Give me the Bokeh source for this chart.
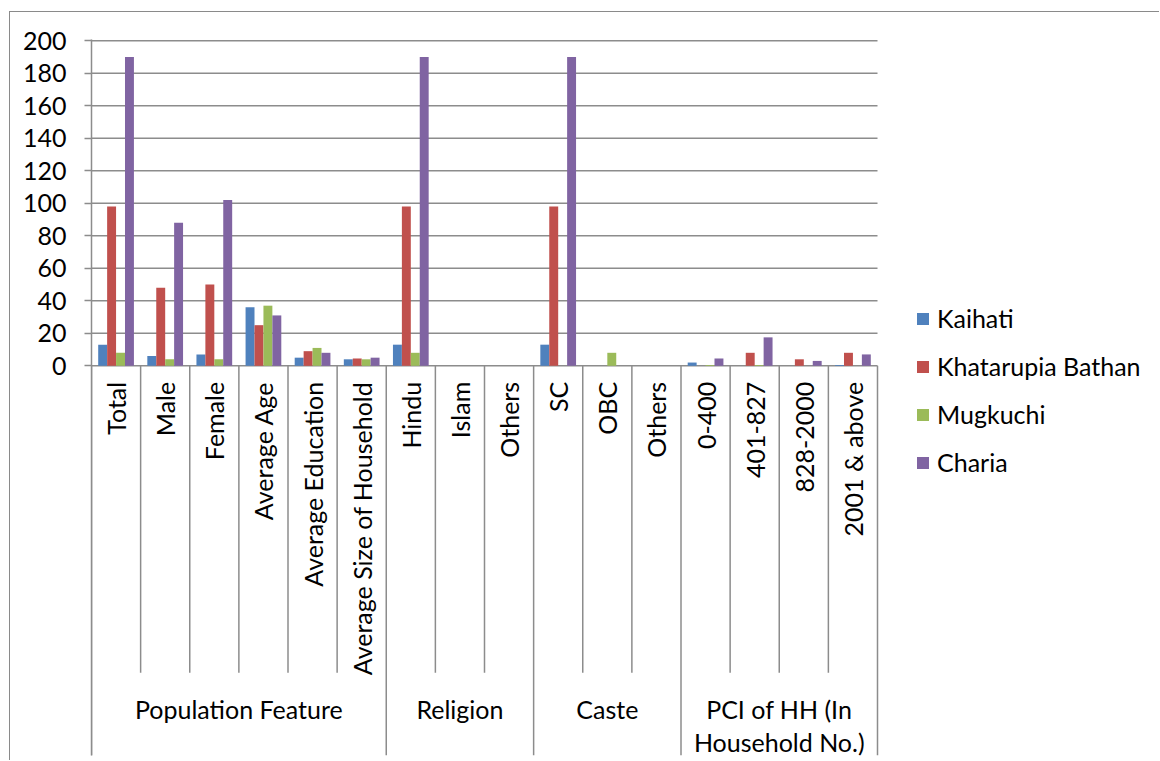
import math
from bokeh.plotting import figure
from bokeh.models import (FactorRange, Range1d, FixedTicker, ColumnDataSource, Legend,
                          LegendItem)
from bokeh.transform import dodge
from bokeh.embed import file_html
from bokeh.resources import INLINE

# ---- data ----
groups = ["Population Feature", "Religion", "Caste", "PCI of HH (In\nHousehold No.)"]
subcats = [
    ["Total", "Male", "Female", "Average Age", "Average Education", "Average Size of Household"],
    ["Hindu", "Islam", "Others"],
    ["SC", "OBC", "Others"],
    ["0-400", "401-827", "828-2000", "2001 & above"],
]
series_names = ["Kaihati", "Khatarupia Bathan", "Mugkuchi", "Charia"]
kaihati = [13, 6, 7, 36, 5, 4, 13, 0, 0, 13, 0, 0, 2, 0, 0, 0.5]
khatarupia = [98, 48, 50, 25, 9, 4.5, 98, 0, 0, 98, 0, 0, 0, 8, 4, 8]
mugkuchi = [8, 4, 4, 37, 11, 4, 8, 0, 0, 0, 8, 0, 0.5, 0.5, 0, 0]
charia = [190, 88, 102, 31, 8, 5, 190, 0, 0, 190, 0, 0, 4.5, 17.5, 3, 7]
y_ticks = [0, 20, 40, 60, 80, 100, 120, 140, 160, 180, 200]

colors = ["#4F81BD", "#C0504D", "#9BBB59", "#8064A2"]
FONT = "Lato"
FS = "25px"
GRID = "#8c8c8c"

# top level " " holds the chart; top level "  " is an empty slot that makes room for the legend
TOP, SPARE = " ", "  "
factors = [(TOP, g, s) for g, ss in zip(groups, subcats) for s in ss]
spare_factor = (SPARE, SPARE, SPARE)

src = ColumnDataSource(dict(x=factors, kaihati=kaihati, khatarupia=khatarupia,
                            mugkuchi=mugkuchi, charia=charia))

W, H = 1150, 749
MB_L, MB_T, MB_B, MB_R = 81, 27, 6, 5
cat_w = (877 - 91) / 16.0
frame_w = W - MB_L - MB_R
spare_pad = frame_w / cat_w - (len(factors) + 1)
x_range = FactorRange(*factors, spare_factor, factor_padding=0, subgroup_padding=0,
                      group_padding=spare_pad, range_padding=0)
px_per_unit = 1.625
y_top = 200.8
frame_h = H - MB_T - MB_B
y_range = Range1d(y_top - frame_h / px_per_unit, y_top)

p = figure(x_range=x_range, y_range=y_range, width=W, height=H,
           output_backend="svg", toolbar_location=None,
           min_border_left=MB_L, min_border_top=MB_T, min_border_bottom=MB_B,
           min_border_right=MB_R)
p.outline_line_color = None
p.background_fill_color = "white"
p.styles = {"margin-left": "9px", "margin-top": "11px",
            "border-top": "1px solid #8a8a8a", "border-left": "1px solid #8a8a8a"}

# horizontal gridlines only across the category area
left_edge = factors[0] + (-0.5,)
right_edge = factors[-1] + (0.5,)
p.segment(x0=[left_edge] * len(y_ticks), x1=[right_edge] * len(y_ticks),
          y0=y_ticks, y1=y_ticks, line_color=GRID, line_width=1.5)

bw = 1.0 / 5.5
cols = ["kaihati", "khatarupia", "mugkuchi", "charia"]
renderers = []
for i, (c, col) in enumerate(zip(cols, colors)):
    r = p.vbar(x=dodge("x", (i - 1.5) * bw, range=x_range), top=c, width=bw,
               source=src, fill_color=col, line_color=None)
    renderers.append(r)

# separators (category boundaries below the axis)
sub_x, grp_x = [], []
for g, ss in zip(groups, subcats):
    grp_x.append((TOP, g, ss[0], -0.5))
    for s in ss[1:]:
        sub_x.append((TOP, g, s, -0.5))
grp_x.append(right_edge)
sub_len = -(672 - 365) / px_per_unit
p.segment(x0=sub_x, x1=sub_x, y0=[0] * len(sub_x), y1=[sub_len] * len(sub_x),
          line_color=GRID, line_width=1.5)
p.segment(x0=grp_x, x1=grp_x, y0=[0] * len(grp_x), y1=[y_range.start] * len(grp_x),
          line_color=GRID, line_width=1.5)

# y axis
p.yaxis.ticker = FixedTicker(ticks=y_ticks)
p.yaxis.axis_line_color = GRID
p.yaxis.axis_line_width = 1.5
p.yaxis.major_tick_line_color = GRID
p.yaxis.major_tick_line_width = 1.5
p.yaxis.major_tick_out = 7
p.yaxis.major_tick_in = 0
p.yaxis.minor_tick_line_color = None
p.yaxis.major_label_standoff = 18
p.yaxis.major_label_text_font = FONT
p.yaxis.major_label_text_font_size = FS
p.yaxis.major_label_text_color = "black"

p.ygrid.grid_line_color = None
p.xgrid.grid_line_color = None

# x axis at y=0
xa = p.xaxis[0]
xa.fixed_location = 0
xa.axis_line_color = None
xa.major_tick_line_color = None
xa.major_tick_out = 0
xa.major_tick_in = 0
xa.major_label_orientation = math.pi / 2
xa.major_label_standoff = 16
xa.major_label_text_font = FONT
xa.major_label_text_font_size = FS
xa.major_label_text_color = "black"
xa.subgroup_text_font = FONT
xa.subgroup_text_font_size = FS
xa.subgroup_text_font_style = "normal"
xa.subgroup_text_color = "black"
xa.subgroup_text_line_height = 1.1
xa.group_text_font = FONT
xa.group_text_font_size = FS
xa.group_text_font_style = "normal"
xa.group_text_color = "black"
xa.separator_line_color = None

legend = Legend(items=[LegendItem(label=n, renderers=[r]) for n, r in zip(series_names, renderers)],
                location=(824, 278), padding=5, margin=0, spacing=18,
                glyph_width=15, glyph_height=15, label_height=30, label_standoff=7,
                label_text_font=FONT, label_text_font_size=FS, label_text_color="black",
                border_line_color=None, background_fill_alpha=0)
p.add_layout(legend, "center")

open("out.html", "w").write(file_html(p, INLINE))
